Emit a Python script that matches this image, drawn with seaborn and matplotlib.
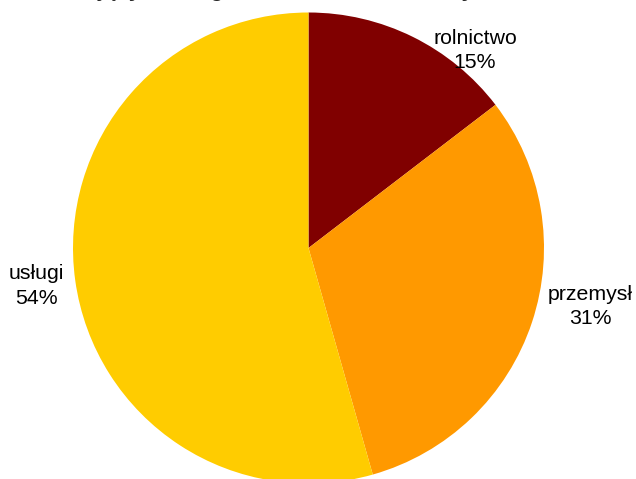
import seaborn as sns
import matplotlib.pyplot as plt

# data
sectors = ['rolnictwo', 'przemysł', 'usługi']
shares = [14.6, 31.0, 54.4]
colors = ['#800000', '#FF9900', '#FFCC00']
title = 'Pracujący według sektorów ekonomicznych w Polsce'

# layout (pixels from top-left, figure is 636x479)
W, H = 636, 479
center = (308.5, H - 248)
radius = 235.5
# (x centre, baseline of the name line)
label_pos = [(475, 43.5), (590, 300), (36, 279)]
line_gap = 24.5

sns.set_style('white')
plt.rcParams['font.family'] = ['Liberation Sans', 'DejaVu Sans']

fig = plt.figure(figsize=(W / 100, H / 100), dpi=100)
ax = fig.add_axes([0, 0, 1, 1])

wedges, texts, autotexts = ax.pie(
    shares, labels=sectors, colors=colors, startangle=90, counterclock=False,
    center=center, radius=radius, autopct='%1.0f%%', frame=True,
    wedgeprops={'linewidth': 0},
)

# name above, percent below, like the original
for t, at, (x, y) in zip(texts, autotexts, label_pos):
    t.set_position((x, H - y))
    at.set_position((x, H - y - line_gap))
    for txt in (t, at):
        txt.set_ha('center')
        txt.set_va('baseline')
        txt.set_fontsize(15.3)
        txt.set_color('black')

ax.set_xlim(0, W)
ax.set_ylim(0, H)
ax.set_aspect('equal')
ax.axis('off')

# title sits above the visible area, only descender tips show
fig.text(0.5, 1 + 4 / H, title, ha='center', va='baseline',
         fontsize=16, fontweight='bold')

fig.savefig('out.png', dpi=100)
